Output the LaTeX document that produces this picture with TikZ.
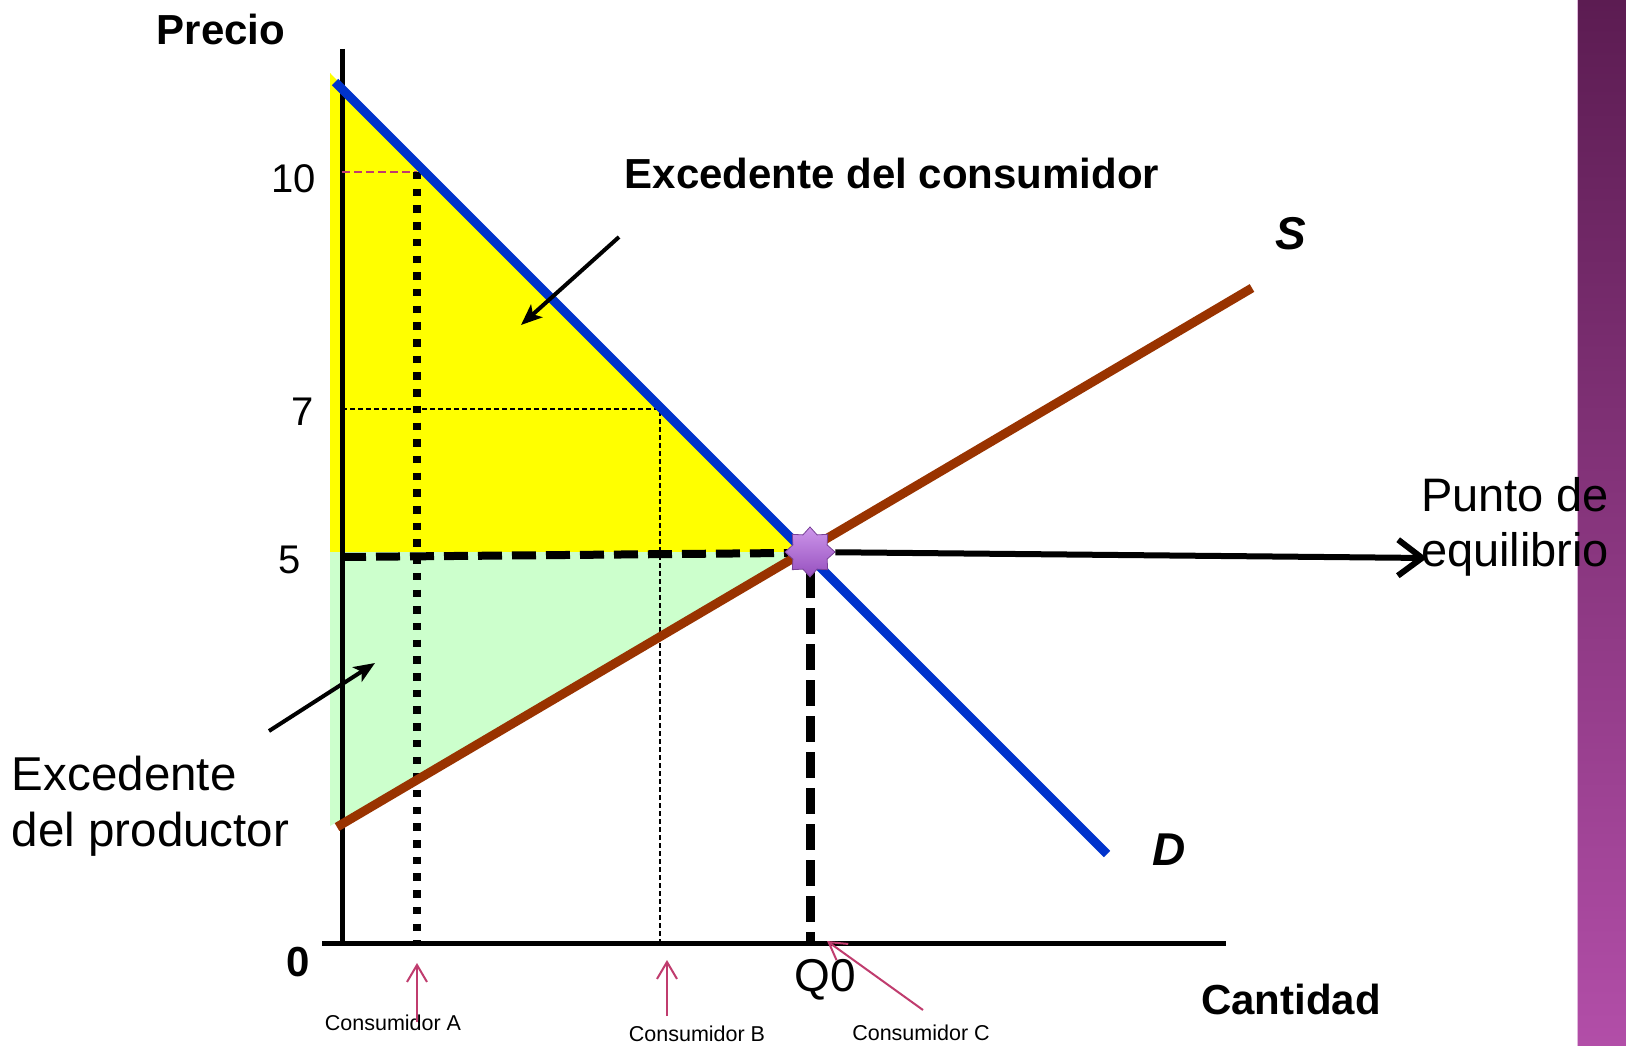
\documentclass[tikz,border=0pt]{standalone}
\usepackage{fontspec}
\setmainfont{Liberation Sans}
\usetikzlibrary{arrows.meta,shapes.geometric}
\definecolor{dblue}{RGB}{0,51,204}
\definecolor{sbrown}{RGB}{153,51,0}
\definecolor{cyel}{RGB}{255,255,0}
\definecolor{pgreen}{RGB}{204,255,204}
\definecolor{cpink}{RGB}{192,60,110}
\definecolor{bandtop}{RGB}{92,28,82}
\definecolor{bandbot}{RGB}{178,78,168}
\definecolor{starlight}{RGB}{205,150,235}
\definecolor{stardark}{RGB}{150,80,190}
\begin{document}
\begin{tikzpicture}[x=1pt,y=-1pt,
  lbl/.style={inner sep=0pt, outer sep=0pt, text=black},
  boldlbl/.style={lbl, font=\bfseries\fontsize{42}{50}\selectfont},
  ticklbl/.style={lbl, font=\fontsize{40}{48}\selectfont, anchor=east},
  curvelbl/.style={lbl, font=\bfseries\itshape\fontsize{46}{54}\selectfont},
  bigtext/.style={lbl, font=\fontsize{47.5}{56}\selectfont, align=left, anchor=west},
  conslbl/.style={lbl, font=\fontsize{21.5}{26}\selectfont},
  axisline/.style={line width=5pt},
  exarrow/.style={line width=4pt, -{Stealth[length=21pt,width=17pt,inset=5pt]}},
  pinkarrow/.style={cpink, line width=2pt, -{Straight Barb[length=17pt,width=20pt]}},
  eqarrow/.style={line width=6pt, line join=round, -{Straight Barb[length=24pt,width=36pt]}}
]
\path[use as bounding box] (0,0) rectangle (1626,1046);
\fill[white] (0,0) rectangle (1626,1046);
% side band
\shade[top color=bandtop,bottom color=bandbot] (1577,0) rectangle (1626,1046);
\draw[line width=1.5pt, white!60!bandbot] (1577.5,0) -- (1577.5,1046);

% key points
\coordinate (E) at (807,552);
\coordinate (yTop) at (330,73);
\coordinate (yBase) at (330,552);
\coordinate (gBot) at (330,826);

% surplus areas
\fill[cyel] (yTop) -- (E) -- (yBase) -- cycle;
\fill[pgreen] (yBase) -- (E) -- (gBot) -- cycle;

% axes
\coordinate (yAxTop) at (342,49);
\coordinate (yAxBot) at (342,943);
\coordinate (xAxL) at (322,943);
\coordinate (xAxR) at (1226,943);
\draw[axisline] (yAxTop) -- (yAxBot);
\draw[axisline] (xAxL) -- (xAxR);

% guide lines
\coordinate (p10a) at (342,172);
\coordinate (p10b) at (417,172);
\coordinate (p7a) at (342,409);
\coordinate (p7b) at (660,409);
\coordinate (p7c) at (660,943);
\coordinate (cA) at (417,943);
\coordinate (p5a) at (342,557);
\coordinate (p5b) at (788,553);
\coordinate (q0top) at (810,572);
\coordinate (q0bot) at (810,943);
\draw[cpink, line width=2pt, dash pattern=on 8pt off 4pt] (p10a) -- (p10b);
\draw[line width=1.5pt, dash pattern=on 5pt off 3pt] (p7a) -- (p7b) -- (p7c);
\draw[line width=8pt, dash pattern=on 7.5pt off 9.2pt] (p10b) -- (cA);
\draw[line width=8pt, dash pattern=on 24pt off 10pt] (p5a) -- (p5b);
\draw[line width=9pt, dash pattern=on 26pt off 10pt] (q0top) -- (q0bot);

% demand and supply
\coordinate (dA) at (335,82);
\coordinate (dB) at (1107,854);
\coordinate (sA) at (337,827);
\coordinate (sB) at (1252,288);
\draw[dblue, line width=9pt] (dA) -- (dB);
\draw[sbrown, line width=9pt] (sA) -- (sB);

% equilibrium star
\node[star, star points=8, star point ratio=1.35, minimum size=50pt, inner sep=0pt,
      top color=starlight, bottom color=stardark, draw=stardark!80!black, line width=0.8pt]
      (star) at (810,552) {};
\coordinate (peTip) at (1427,558);
\draw[eqarrow] (star) -- (peTip);

% labels
\node[boldlbl] (precio) at (221,29) {Precio};
\node[boldlbl] (cantidad) at (1291,999) {Cantidad};
\node[boldlbl] (zero) at (298,962) {0};
\node[ticklbl] (t10) at (316,179) {10};
\node[ticklbl] (t7) at (314,412) {7};
\node[ticklbl] (t5) at (301,560) {5};
\node[lbl, font=\fontsize{46}{54}\selectfont] (q0) at (825,980) {Q0};
\node[curvelbl] (S) at (1291,234) {S};
\node[curvelbl] (D) at (1169,850) {D};
\node[boldlbl] (exc) at (892,173) {Excedente del consumidor};
\node[bigtext] (exp) at (12,806) {Excedente\\del productor};
\node[bigtext, font=\fontsize{47}{55}\selectfont] (punto) at (1421,527) {Punto de\\equilibrio};

% surplus arrows
\coordinate (ecTail) at (619,237);
\coordinate (ecTip) at (521,325);
\coordinate (epTail) at (269,731);
\coordinate (epTip) at (375,663);
\draw[exarrow] (ecTail) -- (ecTip);
\draw[exarrow] (epTail) -- (epTip);

% consumers
\node[conslbl] (consA) at (393,1023) {Consumidor A};
\node[conslbl] (consB) at (697,1034) {Consumidor B};
\node[conslbl] (consC) at (921,1033) {Consumidor C};
\coordinate (aTail) at (417,1022);
\coordinate (aTip) at (417,963);
\coordinate (bTail) at (667,1016);
\coordinate (bTip) at (667,960);
\coordinate (cTail) at (923,1010);
\coordinate (cTip) at (827,941);
\draw[pinkarrow] (aTail) -- (aTip);
\draw[pinkarrow] (bTail) -- (bTip);
\draw[pinkarrow] (cTail) -- (cTip);
\end{tikzpicture}
\end{document}
